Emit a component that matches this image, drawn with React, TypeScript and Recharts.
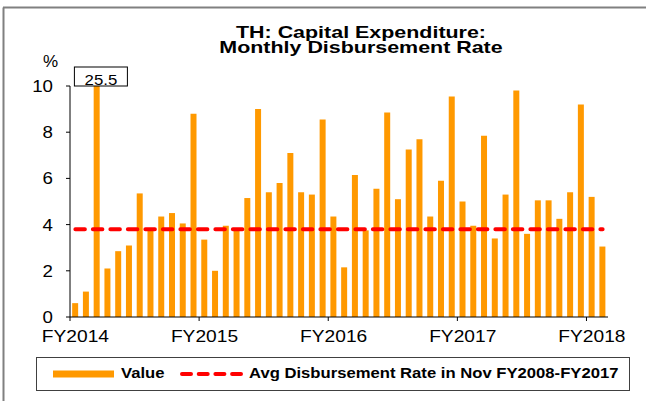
import { ComposedChart, Bar, Line, XAxis, YAxis, ReferenceDot } from "recharts";

// monthly data, Oct 2013 (start of FY2014) to Nov 2017
const months = [
  "2013-10", "2013-11", "2013-12", "2014-01", "2014-02", "2014-03",
  "2014-04", "2014-05", "2014-06", "2014-07", "2014-08", "2014-09",
  "2014-10", "2014-11", "2014-12", "2015-01", "2015-02", "2015-03",
  "2015-04", "2015-05", "2015-06", "2015-07", "2015-08", "2015-09",
  "2015-10", "2015-11", "2015-12", "2016-01", "2016-02", "2016-03",
  "2016-04", "2016-05", "2016-06", "2016-07", "2016-08", "2016-09",
  "2016-10", "2016-11", "2016-12", "2017-01", "2017-02", "2017-03",
  "2017-04", "2017-05", "2017-06", "2017-07", "2017-08", "2017-09",
  "2017-10", "2017-11",
];

const disbursementRate = [
  0.6, 1.1, 25.5, 2.1, 2.85, 3.1, 5.35, 3.75, 4.35, 4.5, 4.05, 8.8,
  3.35, 2.0, 3.95, 3.75, 5.15, 9.0, 5.4, 5.8, 7.1, 5.4, 5.3, 8.55,
  4.35, 2.15, 6.15, 3.75, 5.55, 8.85, 5.1, 7.25, 7.7, 4.35, 5.9, 9.55,
  5.0, 3.95, 7.85, 3.4, 5.3, 9.8, 3.6, 5.05, 5.05, 4.25, 5.4, 9.2,
  5.2, 3.05,
];

const avgNovRate = 3.8;

const fiscalYearStarts: Record<string, string> = {
  "2013-10": "FY2014",
  "2014-10": "FY2015",
  "2015-10": "FY2016",
  "2016-10": "FY2017",
  "2017-10": "FY2018",
};

const yTicks = [0, 2, 4, 6, 8, 10];
const yMax = 10;

const FONT = '"Liberation Sans", Arial, Helvetica, sans-serif';
const ORANGE = "#FF9900";
const RED = "#FF0000";

const data = months.map((m, i) => ({
  month: m,
  value: disbursementRate[i],
  avg: avgNovRate,
}));

const peakIndex = disbursementRate.findIndex((v) => v > yMax);

function XTick(props: any) {
  const { x, y, payload } = props;
  const label = fiscalYearStarts[payload.value];
  if (!label) return null;
  const half = payload.offset ?? 0;
  return (
    <g>
      <line x1={x - half} x2={x - half} y1={y} y2={y + 4} stroke="#000" />
      <text
        transform={`translate(${x},${y + 13}) scale(1.13,1)`}
        textAnchor="middle"
        dy="0.71em"
        fontSize={17}
        fontFamily={FONT}
        fill="#000"
      >
        {label}
      </text>
    </g>
  );
}

function YTick(props: any) {
  const { x, y, payload } = props;
  return (
    <text
      transform={`translate(${x},${y}) scale(1.1,1)`}
      textAnchor="end"
      dy="0.355em"
      fontSize={17}
      fontFamily={FONT}
      fill="#000"
    >
      {payload.value}
    </text>
  );
}

// boxed value for the bar that runs off the top of the axis
function OverflowBox(props: any) {
  const { cx, cy } = props;
  if (cx == null || cy == null) return null;
  return (
    <g>
      <rect x={cx + 4 - 26.5} y={cy - 19} width={53} height={19} fill="#fff" stroke="#000" />
      <text
        transform={`translate(${cx + 4},${cy - 1.5}) scale(1.2,1)`}
        textAnchor="middle"
        fontSize={14}
        fontFamily={FONT}
        fill="#000"
      >
        {disbursementRate[peakIndex]}
      </text>
    </g>
  );
}

export default function App() {
  return (
    <div style={{ position: "absolute", left: 0, top: 0, width: 646, height: 401, background: "#fff" }}>
      <div style={{ position: "absolute", left: 0, top: 0 }}>
        <ComposedChart
          width={646}
          height={360}
          data={data}
          margin={{ top: 86, right: 38, bottom: 0, left: 0 }}
          barCategoryGap="20%"
        >
          <XAxis
            dataKey="month"
            height={43}
            interval={11}
            tickSize={0}
            tickMargin={0}
            tickLine={false}
            stroke="#000"
            tick={<XTick />}
          />
          <YAxis
            width={70}
            domain={[0, yMax]}
            ticks={yTicks}
            allowDataOverflow
            tickSize={4}
            tickMargin={13}
            stroke="#000"
            tick={<YTick />}
          />
          <Bar dataKey="value" fill={ORANGE} isAnimationActive={false} />
          <Line
            type="linear"
            dataKey="avg"
            stroke={RED}
            strokeWidth={4}
            strokeDasharray="9.5 8"
            strokeLinecap="round"
            dot={false}
            activeDot={false}
            isAnimationActive={false}
          />
          <ReferenceDot x={months[peakIndex]} y={yMax} r={0} shape={<OverflowBox />} />
        </ComposedChart>
      </div>
      <svg
        width={646}
        height={401}
        style={{ position: "absolute", left: 0, top: 0, pointerEvents: "none" }}
      >
        <line x1={3.5} y1={7.5} x2={3.5} y2={401} stroke="#808080" strokeWidth={2} />
        <line x1={3} y1={7.5} x2={646} y2={7.5} stroke="#808080" strokeWidth={2} />

        <g fontFamily={FONT} fontWeight="bold" fontSize={16} fill="#000" textAnchor="middle">
          <text transform="translate(361,37.5) scale(1.34,1)">TH: Capital Expenditure:</text>
          <text transform="translate(361,53) scale(1.34,1)">Monthly Disbursement Rate</text>
        </g>

        <text x={43} y={67} fontFamily={FONT} fontSize={17} fill="#000">%</text>

        <rect x={36.5} y={357.5} width={593} height={33} fill="#fff" stroke="#404040" />
        <rect x={53} y={370.5} width={61} height={7} fill={ORANGE} />
        <text
          transform="translate(121,378) scale(1.19,1)"
          fontFamily={FONT}
          fontWeight="bold"
          fontSize={14}
          fill="#000"
        >
          Value
        </text>
        <line
          x1={182}
          y1={374}
          x2={241}
          y2={374}
          stroke={RED}
          strokeWidth={4}
          strokeDasharray="9 7.7"
          strokeLinecap="round"
        />
        <text
          transform="translate(249,378) scale(1.19,1)"
          fontFamily={FONT}
          fontWeight="bold"
          fontSize={14}
          fill="#000"
        >
          Avg Disbursement Rate in Nov FY2008-FY2017
        </text>
      </svg>
    </div>
  );
}
